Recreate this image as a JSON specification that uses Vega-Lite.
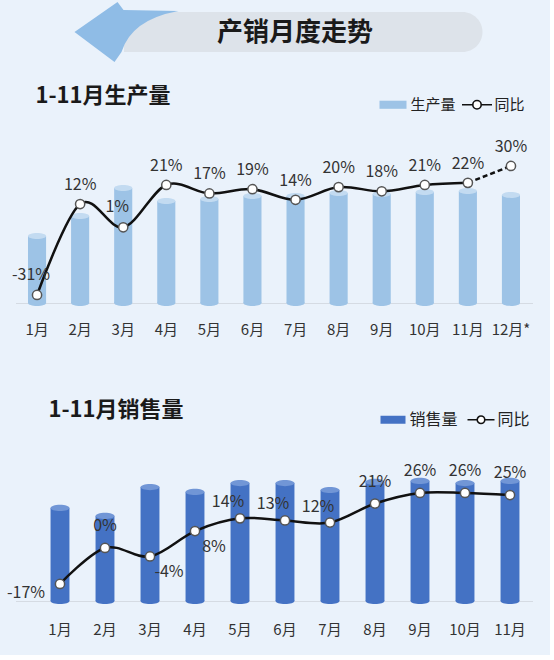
{
  "$schema": "https://vega.github.io/schema/vega-lite/v6.json",
  "background": "#EAF2FB",
  "padding": {"left": 6.5, "top": 0, "right": 17, "bottom": 18},
  "config": {
    "font": "Noto Sans CJK SC",
    "view": {"stroke": null},
    "axis": {"grid": false},
    "locale": {
      "number": {"decimal": ".", "thousands": ",", "grouping": [3], "currency": ["$", ""], "minus": "-"}
    }
  },
  "spacing": 19,
  "resolve": {"scale": {"color": "independent"}, "legend": {"color": "independent"}},
  "vconcat": [
    {
      "width": 517,
      "height": 66,
      "data": {"values": [{"title": "产销月度走势"}]},
      "layer": [
        {
          "mark": {
            "type": "point", "filled": true, "opacity": 1, "strokeWidth": 0, "size": 250000,
            "fill": "#DDE3EA",
            "shape": "M-0.6,-0.084L0.754,-0.084C0.798,-0.084 0.834,-0.048 0.834,-0.004C0.834,0.04 0.798,0.076 0.754,0.076L-0.6,0.076Z"
          },
          "encoding": {}
        },
        {
          "mark": {
            "type": "point", "filled": true, "opacity": 1, "strokeWidth": 0, "size": 250000,
            "fill": "#8FBCE6",
            "shape": "M-0.626,-0.124L-0.798,-0.004L-0.638,0.116L-0.61,0.076Q-0.57,-0.054 -0.382,-0.088L-0.602,-0.092Z"
          },
          "encoding": {}
        },
        {
          "mark": {"type": "text", "fontSize": 26, "fontWeight": "bold", "fill": "#1a1a1a", "dx": 21, "baseline": "middle"},
          "encoding": {"text": {"field": "title"}}
        }
      ]
    },
    {
      "spacing": 62,
      "resolve": {"scale": {"color": "independent"}, "legend": {"color": "independent"}},
      "vconcat": [
        {
          "width": 517,
          "height": 195,
          "title": {
            "text": "1-11月生产量", "anchor": "start", "frame": "group", "fontSize": 22,
            "fontWeight": "bold", "color": "#1a1a1a", "dx": 20, "offset": -40, "baseline": "bottom"
          },
          "data": {
            "values": [
              {"month": "1月", "output": 31.8, "yoy": -0.31},
              {"month": "2月", "output": 41.2, "yoy": 0.12},
              {"month": "3月", "output": 54.5, "yoy": 0.01},
              {"month": "4月", "output": 48.3, "yoy": 0.21},
              {"month": "5月", "output": 49.3, "yoy": 0.17},
              {"month": "6月", "output": 50.7, "yoy": 0.19},
              {"month": "7月", "output": 50.7, "yoy": 0.14},
              {"month": "8月", "output": 52.1, "yoy": 0.20},
              {"month": "9月", "output": 51.7, "yoy": 0.18},
              {"month": "10月", "output": 52.6, "yoy": 0.21},
              {"month": "11月", "output": 53.1, "yoy": 0.22},
              {"month": "12月", "output": 51.2, "yoy": 0.30}
            ]
          },
          "encoding": {
            "x": {
              "field": "month", "type": "nominal",
              "scale": {"domain": ["1月", "2月", "3月", "4月", "5月", "6月", "7月", "8月", "9月", "10月", "11月", "12月"], "paddingInner": 0, "paddingOuter": 0},
              "axis": {
                "title": null, "labelAngle": 0, "ticks": false, "labelPadding": 19, "labelFontSize": 15,
                "labelColor": "#333333", "domainColor": "#D5DBE3",
                "labelExpr": "datum.value === '12月' ? '12月*' : datum.value"
              }
            }
          },
          "layer": [
            {
              "mark": {
                "type": "point", "filled": true, "opacity": 1, "strokeWidth": 0, "size": 328, "fill": "#9DC3E6",
                "shape": "M-1,0C-1,-0.18 -0.55,-0.33 0,-0.33C0.55,-0.33 1,-0.18 1,0C1,0.18 0.55,0.33 0,0.33C-0.55,0.33 -1,0.18 -1,0Z"
              },
              "encoding": {"y": {"datum": 0, "type": "quantitative", "scale": {"domain": [0, 92.4], "nice": false}, "axis": null}}
            },
            {
              "mark": {"type": "bar", "width": {"band": 0.42}},
              "encoding": {
                "y": {"field": "output", "type": "quantitative", "scale": {"domain": [0, 92.4], "nice": false}, "axis": null},
                "color": {
                  "datum": "生产量",
                  "scale": {"domain": ["生产量", "同比"], "range": ["#9DC3E6", "#ffffff"]},
                  "legend": {
                    "title": null, "orient": "none", "legendX": 363, "legendY": -18, "direction": "horizontal",
                    "labelFontSize": 15, "labelColor": "#222222", "labelOffset": 3, "columnPadding": 2, "padding": 0,
                    "encode": {
                      "symbols": {
                        "update": {
                          "shape": {"signal": "datum.value === '同比' ? 'M-1,0L-0.28,0M0.28,0C0.28,0.155 0.155,0.28 0,0.28C-0.155,0.28 -0.28,0.155 -0.28,0C-0.28,-0.155 -0.155,-0.28 0,-0.28C0.155,-0.28 0.28,-0.155 0.28,0M0.28,0L1,0' : 'M-1,-0.3L1,-0.3L1,0.3L-1,0.3Z'"},
                          "size": {"signal": "datum.value === '同比' ? 900 : 729"},
                          "stroke": {"signal": "datum.value === '同比' ? '#111111' : 'transparent'"},
                          "strokeWidth": {"value": 1.6},
                          "opacity": {"value": 1}
                        }
                      }
                    }
                  }
                }
              }
            },
            {
              "mark": {
                "type": "point", "filled": true, "opacity": 1, "strokeWidth": 0, "size": 328, "fill": "#C3DBF1",
                "shape": "M-1,0C-1,-0.18 -0.55,-0.33 0,-0.33C0.55,-0.33 1,-0.18 1,0C1,0.18 0.55,0.33 0,0.33C-0.55,0.33 -1,0.18 -1,0Z"
              },
              "encoding": {"y": {"field": "output", "type": "quantitative", "scale": {"domain": [0, 92.4], "nice": false}, "axis": null}}
            },
            {
              "transform": [{"filter": "datum.month !== '12月'"}],
              "mark": {"type": "line", "interpolate": "cardinal", "strokeWidth": 2.5, "color": "#111111"},
              "encoding": {
                "y": {"field": "yoy", "type": "quantitative", "scale": {"domain": [-0.348, 0.574], "nice": false, "zero": false}, "axis": null}
              }
            },
            {
              "transform": [{"filter": {"field": "month", "oneOf": ["11月", "12月"]}}],
              "mark": {"type": "line", "strokeWidth": 2.5, "strokeDash": [5, 3], "color": "#111111"},
              "encoding": {
                "y": {"field": "yoy", "type": "quantitative", "scale": {"domain": [-0.348, 0.574], "nice": false, "zero": false}, "axis": null}
              }
            },
            {
              "mark": {"type": "point", "filled": true, "opacity": 1, "fill": "#ffffff", "stroke": "#555555", "strokeWidth": 1.5, "size": 85},
              "encoding": {
                "y": {"field": "yoy", "type": "quantitative", "scale": {"domain": [-0.348, 0.574], "nice": false, "zero": false}, "axis": null}
              }
            },
            {
              "transform": [{"filter": {"not": {"field": "month", "oneOf": ["1月", "3月"]}}}],
              "mark": {"type": "text", "fontSize": 16, "fill": "#333333", "dy": -19},
              "encoding": {
                "y": {"field": "yoy", "type": "quantitative", "scale": {"domain": [-0.348, 0.574], "nice": false, "zero": false}, "axis": null},
                "text": {"field": "yoy", "format": ".0%"}
              }
            },
            {
              "transform": [{"filter": {"field": "month", "oneOf": ["1月", "3月"]}}],
              "mark": {"type": "text", "fontSize": 16, "fill": "#333333", "dx": -6, "dy": -20},
              "encoding": {
                "y": {"field": "yoy", "type": "quantitative", "scale": {"domain": [-0.348, 0.574], "nice": false, "zero": false}, "axis": null},
                "text": {"field": "yoy", "format": ".0%"}
              }
            }
          ],
          "resolve": {"scale": {"y": "independent"}}
        },
        {
          "width": 517,
          "height": 176,
          "title": {
            "text": "1-11月销售量", "anchor": "start", "frame": "group", "fontSize": 22,
            "fontWeight": "bold", "color": "#1a1a1a", "dx": 33, "offset": -38, "baseline": "bottom"
          },
          "data": {
            "values": [
              {"month": "1月", "sales": 44.1, "yoy": -0.17},
              {"month": "2月", "sales": 40.3, "yoy": 0.00},
              {"month": "3月", "sales": 54.0, "yoy": -0.04},
              {"month": "4月", "sales": 51.7, "yoy": 0.08},
              {"month": "5月", "sales": 55.9, "yoy": 0.14},
              {"month": "6月", "sales": 55.9, "yoy": 0.13},
              {"month": "7月", "sales": 52.6, "yoy": 0.12},
              {"month": "8月", "sales": 56.4, "yoy": 0.21},
              {"month": "9月", "sales": 56.9, "yoy": 0.26},
              {"month": "10月", "sales": 55.9, "yoy": 0.26},
              {"month": "11月", "sales": 56.9, "yoy": 0.25}
            ]
          },
          "encoding": {
            "x": {
              "field": "month", "type": "nominal",
              "scale": {"domain": ["1月", "2月", "3月", "4月", "5月", "6月", "7月", "8月", "9月", "10月", "11月"], "paddingInner": 0, "paddingOuter": 0.2444, "align": 1},
              "axis": {
                "title": null, "labelAngle": 0, "ticks": false, "labelPadding": 21, "labelFontSize": 15,
                "labelColor": "#333333", "domainColor": "#D5DBE3"
              }
            }
          },
          "layer": [
            {
              "mark": {
                "type": "point", "filled": true, "opacity": 1, "strokeWidth": 0, "size": 357, "fill": "#4472C4",
                "shape": "M-1,0C-1,-0.18 -0.55,-0.33 0,-0.33C0.55,-0.33 1,-0.18 1,0C1,0.18 0.55,0.33 0,0.33C-0.55,0.33 -1,0.18 -1,0Z"
              },
              "encoding": {"y": {"datum": 0, "type": "quantitative", "scale": {"domain": [0, 83.4], "nice": false}, "axis": null}}
            },
            {
              "mark": {"type": "bar", "width": {"band": 0.42}},
              "encoding": {
                "y": {"field": "sales", "type": "quantitative", "scale": {"domain": [0, 83.4], "nice": false}, "axis": null},
                "color": {
                  "datum": "销售量",
                  "scale": {"domain": ["销售量", "同比"], "range": ["#4472C4", "#ffffff"]},
                  "legend": {
                    "title": null, "orient": "none", "legendX": 364, "legendY": -19, "direction": "horizontal",
                    "labelFontSize": 16, "labelColor": "#222222", "labelOffset": 3, "columnPadding": 5, "padding": 0,
                    "encode": {
                      "symbols": {
                        "update": {
                          "shape": {"signal": "datum.value === '同比' ? 'M-1,0L-0.28,0M0.28,0C0.28,0.155 0.155,0.28 0,0.28C-0.155,0.28 -0.28,0.155 -0.28,0C-0.28,-0.155 -0.155,-0.28 0,-0.28C0.155,-0.28 0.28,-0.155 0.28,0M0.28,0L1,0' : 'M-1,-0.32L1,-0.32L1,0.32L-1,0.32Z'"},
                          "size": {"signal": "datum.value === '同比' ? 729 : 625"},
                          "stroke": {"signal": "datum.value === '同比' ? '#111111' : 'transparent'"},
                          "strokeWidth": {"value": 1.6},
                          "opacity": {"value": 1}
                        }
                      }
                    }
                  }
                }
              }
            },
            {
              "mark": {
                "type": "point", "filled": true, "opacity": 1, "strokeWidth": 0, "size": 357, "fill": "#7196D6",
                "shape": "M-1,0C-1,-0.18 -0.55,-0.33 0,-0.33C0.55,-0.33 1,-0.18 1,0C1,0.18 0.55,0.33 0,0.33C-0.55,0.33 -1,0.18 -1,0Z"
              },
              "encoding": {"y": {"field": "sales", "type": "quantitative", "scale": {"domain": [0, 83.4], "nice": false}, "axis": null}}
            },
            {
              "mark": {"type": "line", "interpolate": "cardinal", "strokeWidth": 2.5, "color": "#111111"},
              "encoding": {
                "y": {"field": "yoy", "type": "quantitative", "scale": {"domain": [-0.2505, 0.581], "nice": false, "zero": false}, "axis": null}
              }
            },
            {
              "mark": {"type": "point", "filled": true, "opacity": 1, "fill": "#ffffff", "stroke": "#555555", "strokeWidth": 1.5, "size": 85},
              "encoding": {
                "y": {"field": "yoy", "type": "quantitative", "scale": {"domain": [-0.2505, 0.581], "nice": false, "zero": false}, "axis": null}
              }
            },
            {
              "transform": [{"filter": {"field": "month", "oneOf": ["2月", "8月", "9月", "10月", "11月"]}}],
              "mark": {"type": "text", "fontSize": 16, "fill": "#333333", "dy": -22},
              "encoding": {
                "y": {"field": "yoy", "type": "quantitative", "scale": {"domain": [-0.2505, 0.581], "nice": false, "zero": false}, "axis": null},
                "text": {"field": "yoy", "format": ".0%"}
              }
            },
            {
              "transform": [{"filter": {"field": "month", "oneOf": ["5月", "6月", "7月"]}}],
              "mark": {"type": "text", "fontSize": 16, "fill": "#333333", "dx": -12, "dy": -16},
              "encoding": {
                "y": {"field": "yoy", "type": "quantitative", "scale": {"domain": [-0.2505, 0.581], "nice": false, "zero": false}, "axis": null},
                "text": {"field": "yoy", "format": ".0%"}
              }
            },
            {
              "transform": [{"filter": {"field": "month", "oneOf": ["3月", "4月"]}}],
              "mark": {"type": "text", "fontSize": 16, "fill": "#333333", "dx": 19, "dy": 16},
              "encoding": {
                "y": {"field": "yoy", "type": "quantitative", "scale": {"domain": [-0.2505, 0.581], "nice": false, "zero": false}, "axis": null},
                "text": {"field": "yoy", "format": ".0%"}
              }
            },
            {
              "transform": [{"filter": {"field": "month", "equal": "1月"}}],
              "mark": {"type": "text", "fontSize": 16, "fill": "#333333", "dx": -34, "dy": 9},
              "encoding": {
                "y": {"field": "yoy", "type": "quantitative", "scale": {"domain": [-0.2505, 0.581], "nice": false, "zero": false}, "axis": null},
                "text": {"field": "yoy", "format": ".0%"}
              }
            }
          ],
          "resolve": {"scale": {"y": "independent"}}
        }
      ]
    }
  ]
}
